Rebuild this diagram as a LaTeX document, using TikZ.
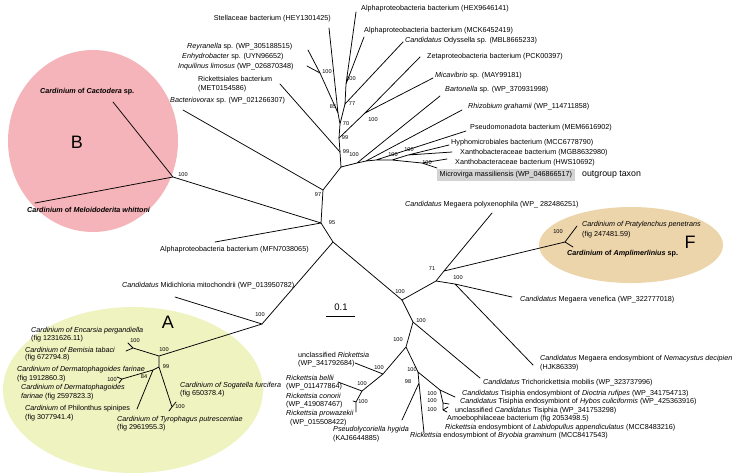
\documentclass[tikz,border=0pt]{standalone}
\usepackage{fontspec}
\setmainfont{Liberation Sans}
\definecolor{pinkB}{HTML}{F5B4B9}
\definecolor{yelA}{HTML}{EFF3C0}
\definecolor{tanF}{HTML}{EDD5AB}
\definecolor{boxg}{HTML}{D3D3D3}
\tikzset{
 br/.style={line width=0.75pt, line cap=round},
 lab/.style={font=\fontsize{7.2}{8}\selectfont, inner sep=0pt, anchor=west},
 labe/.style={lab, anchor=east},
 blab/.style={lab, font=\bfseries\fontsize{7.2}{8}\selectfont},
 bs/.style={font=\fontsize{5.6}{6.5}\selectfont, inner sep=0pt},
 bigl/.style={font=\fontsize{18}{19}\selectfont, inner sep=0pt},
}
\begin{document}
\begin{tikzpicture}[x=1pt,y=-1pt]
\useasboundingbox (0,0) rectangle (738,475);
% ---------- coloured groups
\fill[pinkB] (93,141) ellipse [x radius=85pt, y radius=91pt];
\fill[yelA] (133,390) ellipse [x radius=130pt, y radius=83pt];
\fill[tanF] (631,245) ellipse [x radius=92pt, y radius=38pt];
% ---------- tree nodes and tips
\coordinate (B) at (173,177);
\coordinate (tCac) at (113,102);
\coordinate (tMel) at (35,203);
\coordinate (N95) at (321,223);
\coordinate (N97) at (323,190);
\coordinate (C) at (341,167);
\coordinate (Nlow) at (333,242);
\coordinate (tMFN) at (215,242);
\coordinate (tBac) at (183,110);
\coordinate (S99a) at (340,152);
\coordinate (S99b) at (339,138);
\coordinate (N70) at (340,124);
\coordinate (N85) at (338,113);
\coordinate (N77) at (345,104);
\coordinate (N100a) at (320,73);
\coordinate (tRey) at (308,50);
\coordinate (tInq) at (307,66);
\coordinate (tStel) at (329,28);
\coordinate (N100b) at (346,84);
\coordinate (tHEX) at (356,12);
\coordinate (tMCK) at (364,37);
\coordinate (tOdy) at (403,42);
\coordinate (N100d) at (365,113);
\coordinate (tZeta) at (420,57);
\coordinate (tMica) at (433,78);
\coordinate (tRick) at (280,84);
\coordinate (R1) at (357,163);
\coordinate (R2) at (366,161);
\coordinate (R3) at (376,160);
\coordinate (R4) at (392,160);
\coordinate (R5) at (408,155);
\coordinate (R6) at (422,163);
\coordinate (tBart) at (440,96);
\coordinate (tRhiz) at (462,110);
\coordinate (tPseu) at (466,131);
\coordinate (tHyph) at (449,145);
\coordinate (tXMGB) at (452,152);
\coordinate (tXHWS) at (447,159);
\coordinate (tMicr) at (437,168);
% lower part
\coordinate (NA) at (262,324);
\coordinate (tMid) at (175,297);
\coordinate (NA1) at (159,356);
\coordinate (NB) at (133,348);
\coordinate (tEnc) at (128,343);
\coordinate (tBem) at (126,351);
\coordinate (N99) at (159,367);
\coordinate (N84) at (153,370);
\coordinate (tPhil) at (137,409);
\coordinate (N100j) at (122,379);
\coordinate (tDf1) at (117,377);
\coordinate (tDf2) at (119,383);
\coordinate (N100k) at (172,407);
\coordinate (tSog) at (176,402);
\coordinate (tTyr) at (169,411);
\coordinate (N100c) at (402,300);
\coordinate (Nx) at (436,281);
\coordinate (N71) at (444,271);
\coordinate (tPoly) at (492,213);
\coordinate (NF) at (565,242);
\coordinate (tPra) at (577,226);
\coordinate (tAmp) at (573,247);
\coordinate (N100v) at (455,284);
\coordinate (tVen) at (512,297);
\coordinate (tNem) at (533,365);
\coordinate (N100e) at (413,322);
\coordinate (tTri) at (480,378);
\coordinate (N100f) at (406,347);
\coordinate (Rr1) at (383,374);
\coordinate (tUnR) at (355,363);
\coordinate (Rr2) at (362,391);
\coordinate (tBel) at (338,382);
\coordinate (Rr3) at (356,402);
\coordinate (tCon) at (353,401);
\coordinate (tPro) at (356,412);
\coordinate (N100g) at (418,372);
\coordinate (N98) at (419,383);
\coordinate (tPse) at (402,420);
\coordinate (tBry) at (424,433);
\coordinate (N100h) at (440,390);
\coordinate (tDio) at (455,397);
\coordinate (T1) at (443,403);
\coordinate (T2) at (443,410);
\coordinate (tHyb) at (449,404);
\coordinate (tUnT) at (448,407);
\coordinate (tAmo) at (447,412);
% ---------- branches
\draw[br] (N95) -- (B) (B) -- (tCac) (B) -- (tMel);
\draw[br] (N95) -- (tMFN) (N95) -- (N97) (N97) -- (tBac) (N97) -- (C);
\draw[br] (C) -- (S99a) -- (S99b) -- (N70) -- (N85) (N70) -- (N77);
\draw[br] (N85) -- (N100a) (N100a) -- (tRey) (N100a) -- (tInq) (N85) -- (tStel);
\draw[br] (N77) -- (N100b) (N100b) -- (tHEX) (N100b) -- (tMCK) (N77) -- (tOdy);
\draw[br] (S99b) -- (N100d) (N100d) -- (tZeta) (N100d) -- (tMica) (S99a) -- (tRick);
\draw[br] (C) -- (R1) (R1) -- (tBart) (R1) -- (R2) (R2) -- (tRhiz) (R2) -- (R3)
  (R3) -- (tPseu) (R3) -- (R4) (R4) -- (R5) (R5) -- (tHyph) (R5) -- (tXMGB)
  (R4) -- (R6) (R6) -- (tXHWS) (R6) -- (tMicr);
\draw[br] (N95) -- (Nlow) (Nlow) -- (NA) (Nlow) -- (N100c);
\draw[br] (NA) -- (tMid) (NA) -- (NA1) (NA1) -- (NB) (NB) -- (tEnc) (NB) -- (tBem)
  (NA1) -- (N99) (N99) -- (N84) (N84) -- (tPhil) (N84) -- (N100j) (N100j) -- (tDf1) (N100j) -- (tDf2)
  (N99) -- (N100k) (N100k) -- (tSog) (N100k) -- (tTyr);
\draw[br] (N100c) -- (Nx) (Nx) -- (N71) (N71) -- (tPoly) (N71) -- (NF) (NF) -- (tPra) (NF) -- (tAmp)
  (Nx) -- (N100v) (N100v) -- (tVen) (N100v) -- (tNem);
\draw[br] (N100c) -- (N100e) (N100e) -- (tTri) (N100e) -- (N100f)
  (N100f) -- (Rr1) (Rr1) -- (tUnR) (Rr1) -- (Rr2) (Rr2) -- (tBel) (Rr2) -- (Rr3) (Rr3) -- (tCon) (Rr3) -- (tPro)
  (N100f) -- (N100g) (N100g) -- (N98) (N98) -- (tPse) (N98) -- (tBry)
  (N100g) -- (N100h) (N100h) -- (tDio) (N100h) -- (T1) (T1) -- (tHyb) (T1) -- (T2) (T2) -- (tUnT) (T2) -- (tAmo);
% ---------- scale bar
\coordinate (sb1) at (326,316); \coordinate (sb2) at (355,316);
\draw[line width=0.8pt] (sb1) -- (sb2);
\node[font=\fontsize{9.5}{10}\selectfont, inner sep=0pt] (sbl) at (341,307) {0.1};
% ---------- group letters
\node[bigl] (lB) at (77,142) {B};
\node[bigl] (lA) at (168,322) {A};
\node[bigl] (lF) at (690,242) {F};
% ---------- labels, top
\node[lab] (lHEX) at (361,9) {Alphaproteobacteria bacterium (HEX9646141)};
\node[labe] (lStel) at (331,19) {Stellaceae bacterium (HEY1301425)};
\node[lab] (lMCK) at (364,31) {Alphaproteobacteria bacterium (MCK6452419)};
\node[lab] (lOdy) at (405,41) {\textit{Candidatus} Odyssella sp. (MBL8665233)};
\node[lab] (lZeta) at (427,57) {Zetaproteobacteria bacterium (PCK00397)};
\node[lab] (lMica) at (435,76) {\textit{Micavibrio} sp. (MAY99181)};
\node[lab] (lBart) at (445,90) {\textit{Bartonella} sp. (WP\_370931998)};
\node[lab] (lRhiz) at (468,107) {\textit{Rhizobium grahamii} (WP\_114711858)};
\node[lab] (lPseu) at (470,128) {Pseudomonadota bacterium (MEM6616902)};
\node[lab] (lHyph) at (451,143) {Hyphomicrobiales bacterium (MCC6778790)};
\node[lab] (lXMGB) at (460,153) {Xanthobacteraceae bacterium (MGB8632980)};
\node[lab] (lXHWS) at (455,163) {Xanthobacteraceae bacterium (HWS10692)};
\node[lab, fill=boxg, inner xsep=2.5pt, inner ysep=3pt] (lMicr) at (437,175) {Microvirga massiliensis (WP\_046866517)};
\node[lab, font=\fontsize{8.8}{9}\selectfont] (lout) at (582,175) {outgroup taxon};
\node[lab] (lRey) at (187,47) {\textit{Reyranella} sp. (WP\_305188515)};
\node[lab] (lEnh) at (182,57) {\textit{Enhydrobacter} sp. (UYN96652)};
\node[lab] (lInq) at (178,67) {\textit{Inquilinus limosus} (WP\_026870348)};
\node[lab] (lRick1) at (198,79) {Rickettsiales bacterium};
\node[lab] (lRick2) at (198,89) {(MET0154586)};
\node[lab] (lBac) at (170,101) {\textit{Bacteriovorax} sp. (WP\_021266307)};
\node[blab] (lCac) at (40,92) {\textit{Cardinium} of \textit{Cactodera} sp.};
\node[blab] (lMel) at (27,210) {\textit{Cardinium} of \textit{Meloidoderita whittoni}};
\node[lab] (lMFN) at (160,250) {Alphaproteobacteria bacterium (MFN7038065)};
\node[lab] (lMid) at (122,286) {\textit{Candidatus} Midichloria mitochondrii (WP\_013950782)};
% ---------- labels, group A
\node[lab] (lEnc1) at (31,331) {\textit{Cardinium of Encarsia pergandiella}};
\node[lab] (lEnc2) at (31,339) {(fig 1231626.11)};
\node[lab] (lBem1) at (25,350) {\textit{Cardinium of Bemisia tabaci}};
\node[lab] (lBem2) at (25,358) {(fig 672794.8)};
\node[lab] (lDf1) at (17,370) {\textit{Cardinium of Dermatophagoides farinae}};
\node[lab] (lDf2) at (17,379) {(fig 1912860.3)};
\node[lab] (lDg1) at (21,388) {\textit{Cardinium of Dermatophagoides}};
\node[lab] (lDg2) at (21,397) {\textit{farinae} (fig 2597823.3)};
\node[lab] (lPhi1) at (25,409) {\textit{Cardinium} of Philonthus spinipes};
\node[lab] (lPhi2) at (25,418) {(fig 3077941.4)};
\node[lab] (lSog1) at (180,386) {\textit{Cardinium of Sogatella furcifera}};
\node[lab] (lSog2) at (180,394) {(fig 650378.4)};
\node[lab] (lTyr1) at (117,420) {\textit{Cardinium of Tyrophagus putrescentiae}};
\node[lab] (lTyr2) at (117,428) {(fig 2961955.3)};
% ---------- labels, right lower
\node[lab] (lPoly) at (405,205) {\textit{Candidatus} Megaera polyxenophila (WP\_ 282486251)};
\node[lab] (lPra1) at (582,225) {\textit{Cardinium of Pratylenchus penetrans}};
\node[lab] (lPra2) at (582,235) {(fig 247481.59)};
\node[blab] (lAmp) at (567,254) {\textit{Cardinium} of \textit{Amplimerlinius} sp.};
\node[lab] (lVen) at (520,300) {\textit{Candidatus} Megaera venefica (WP\_322777018)};
\node[lab] (lNem1) at (540,359) {\textit{Candidatus} Megaera endosymbiont of \textit{Nemacystus decipien}};
\node[lab] (lNem2) at (540,368) {(HJK86339)};
\node[lab] (lTri) at (483,383) {\textit{Candidatus} Trichorickettsia mobilis (WP\_323737996)};
\node[lab] (lDio) at (462,394) {\textit{Candidatus} Tisiphia endosymbiont of \textit{Dioctria rufipes} (WP\_341754713)};
\node[lab] (lHyb) at (460,402) {\textit{Candidatus} Tisiphia endosymbiont of \textit{Hybos culiciformis} (WP\_425363916)};
\node[lab] (lUnT) at (455,411) {unclassified \textit{Candidatus} Tisiphia (WP\_341753298)};
\node[lab] (lAmo) at (447,419) {Amoebophilaceae bacterium (fig 2053498.5)};
\node[lab] (lLab) at (445,428) {\textit{Rickettsia} endosymbiont of \textit{Labidopullus appendiculatus} (MCC8483216)};
\node[lab] (lBry) at (410,436) {\textit{Rickettsia} endosymbiont of \textit{Bryobia graminum} (MCC8417543)};
\node[lab] (lPse1) at (333,430) {\textit{Pseudolycoriella hygida}};
\node[lab] (lPse2) at (333,439) {(KAJ6644885)};
\node[lab] (lUnR1) at (298,355) {unclassified \textit{Rickettsia}};
\node[lab] (lUnR2) at (298,364) {(WP\_341792684)};
\node[lab] (lBel1) at (286,378) {\textit{Rickettsia bellii}};
\node[lab] (lBel2) at (286,387) {(WP\_011477864)};
\node[lab] (lCon1) at (286,396) {\textit{Rickettsia conorii}};
\node[lab] (lCon2) at (286,405) {(WP\_419087467)};
\node[lab] (lPro1) at (286,414) {\textit{Rickettsia prowazekii}};
\node[lab] (lPro2) at (290,423) {(WP\_015508422)};
% ---------- bootstrap values
\node[bs] (b1) at (183,175) {100};
\node[bs] (b2) at (318,195) {97};
\node[bs] (b3) at (332,223) {95};
\node[bs] (b4) at (346,152) {99};
\node[bs] (b5) at (345,138) {99};
\node[bs] (b6) at (346,124) {70};
\node[bs] (b7) at (333,107) {85};
\node[bs] (b8) at (352,104) {77};
\node[bs] (b9) at (327,72) {100};
\node[bs] (b10) at (351,79) {100};
\node[bs] (b11) at (373,120) {100};
\node[bs] (b12) at (354,155) {100};
\node[bs] (b13) at (393,155) {100};
\node[bs] (b14) at (409,150) {100};
\node[bs] (b15) at (427,163) {100};
\node[bs] (b16) at (260,315) {100};
\node[bs] (b17) at (164,350) {100};
\node[bs] (b18) at (135,341) {100};
\node[bs] (b19) at (166,367) {99};
\node[bs] (b20) at (144,377) {84};
\node[bs] (b21) at (112,380) {100};
\node[bs] (b22) at (180,407) {100};
\node[bs] (b23) at (400,292) {100};
\node[bs] (b24) at (432,269) {71};
\node[bs] (b25) at (458,278) {100};
\node[bs] (b26) at (558,232) {100};
\node[bs] (b27) at (421,321) {100};
\node[bs] (b28) at (398,340) {100};
\node[bs] (b29) at (379,368) {100};
\node[bs] (b30) at (362,384) {100};
\node[bs] (b31) at (363,402) {100};
\node[bs] (b32) at (412,370) {100};
\node[bs] (b33) at (408,382) {98};
\node[bs] (b34) at (432,394) {100};
\node[bs] (b35) at (432,401) {100};
\node[bs] (b36) at (432,410) {100};
\end{tikzpicture}
\end{document}
